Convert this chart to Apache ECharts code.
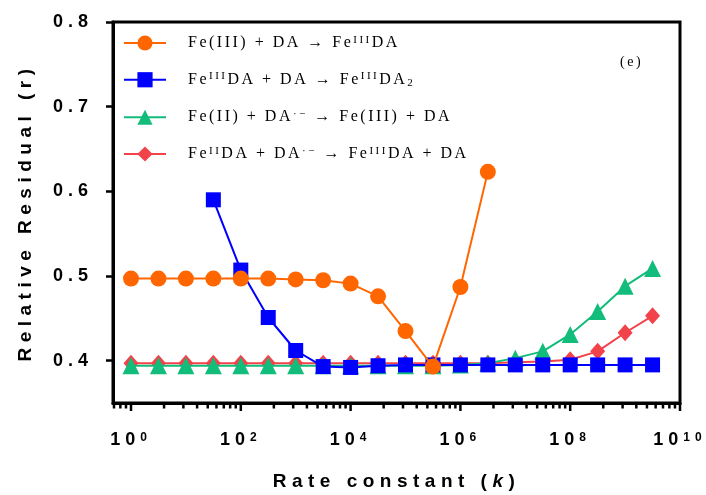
<!DOCTYPE html>
<html><head><meta charset="utf-8">
<script src="https://cdn.jsdelivr.net/npm/echarts@6/dist/echarts.min.js"></script>
<style>html,body{margin:0;padding:0;background:#fff}#c{width:706px;height:495px}</style>
</head><body><div id="c"></div>
<script>
// ---- data ----
const kValues = [1, 3.162, 10, 31.62, 100, 316.2, 1e3, 3162, 1e4, 31620, 1e5, 316200, 1e6, 3.162e6, 1e7, 3.162e7, 1e8, 3.162e8, 1e9, 3.162e9];
const seriesNames = ['Fe(III) + DA → FeIIIDA', 'FeIIIDA + DA → FeIIIDA2', 'Fe(II) + DA·− → Fe(III) + DA', 'FeIIDA + DA·− → FeIIIDA + DA'];
const legendRich = [
  '{t|Fe(III) + DA → Fe}{sup|III}{t|DA}',
  '{t|Fe}{sup|III}{t|DA + DA → Fe}{sup|III}{t|DA}{sub|2}',
  '{t|Fe(II) + DA}{sup|·−}{t| → Fe(III) + DA}',
  '{t|Fe}{sup|II}{t|DA + DA}{sup|·−}{t| → Fe}{sup|III}{t|DA + DA}'
];
const orangeR = [0.497, 0.497, 0.497, 0.497, 0.497, 0.497, 0.496, 0.495, 0.491, 0.476, 0.435, 0.393, 0.487, 0.623];
const blueR = [null, null, null, 0.590, 0.507, 0.451, 0.412, 0.393, 0.392, 0.394, 0.395, 0.395, 0.395, 0.395, 0.395, 0.395, 0.395, 0.395, 0.395, 0.395];
const greenR = [0.394, 0.394, 0.394, 0.394, 0.394, 0.394, 0.394, 0.394, 0.394, 0.394, 0.394, 0.394, 0.395, 0.397, 0.403, 0.411, 0.431, 0.458, 0.488, 0.509];
const redR = [0.397, 0.397, 0.397, 0.397, 0.397, 0.397, 0.397, 0.397, 0.397, 0.397, 0.397, 0.397, 0.397, 0.397, 0.398, 0.399, 0.401, 0.411, 0.433, 0.453];
const majorTickExponents = [0, 2, 4, 6, 8, 10];
const majorTickValues = majorTickExponents.map(function (e) { return Math.pow(10, e); });
const minorTickValues = [0.49, 0.64, 0.81];
[0, 2, 4, 6, 8].forEach(function (e) { [4, 9, 16, 25, 36, 49, 64, 81].forEach(function (k) { minorTickValues.push(k * Math.pow(10, e)); }); });
const xTitleRich = '{n|Rate constant (}{i|k}{n|)}';
const yTitle = 'Relative Residual (r)';
const panelTag = '(e)';
const X_MIN = 0.47, X_MAX = 1e10, Y_MIN = 0.35, Y_MAX = 0.8;

// letter spacing emulation (Prism style tracking)
(function () {
  const P = CanvasRenderingContext2D.prototype;
  function ls(ctx) {
    const f = ctx.font || '';
    let v = '0px';
    if (f.indexOf('Liberation Serif') >= 0) v = '2.5px';
    else if (f.indexOf('Liberation Sans') >= 0) v = (f.indexOf('19px') >= 0 ? '5.5px' : '5px');
    if ('letterSpacing' in ctx) ctx.letterSpacing = v;
  }
  ['fillText', 'strokeText', 'measureText'].forEach(function (m) {
    const o = P[m];
    P[m] = function () { ls(this); return o.apply(this, arguments); };
  });
})();

const SANS = 'Liberation Sans', SERIF = 'Liberation Serif';
const colors = ['#FF6600', '#0000FF', '#12BC7A', '#F2434B'];
function pts(arr) { return arr.map(function (v, i) { return [kValues[i], v]; }).filter(function (p) { return p[1] != null; }); }

const chart = echarts.init(document.getElementById('c'), null, { renderer: 'canvas' });
chart.setOption({
  animation: false,
  backgroundColor: '#fff',
  grid: { left: 113, right: 26, top: 22, bottom: 92, show: true, borderColor: '#000', borderWidth: 3,
    containLabel: false, outerBoundsMode: 'none' },
  legend: {
    orient: 'vertical', left: 123, top: 33, padding: 0, itemWidth: 42, itemHeight: 19, itemGap: 17.5,
    data: seriesNames,
    formatter: function (name) { return legendRich[seriesNames.indexOf(name)]; },
    textStyle: {
      fontFamily: SERIF, fontSize: 16, color: '#000', padding: [0, 0, 0, 17],
      rich: {
        t: { fontFamily: SERIF, fontSize: 16, lineHeight: 20, color: '#000' },
        sup: { fontFamily: SERIF, fontSize: 11, lineHeight: 11, verticalAlign: 'top', color: '#000' },
        sub: { fontFamily: SERIF, fontSize: 11, lineHeight: 11, verticalAlign: 'bottom', color: '#000' }
      }
    }
  },
  graphic: [{ id: 'tag', type: 'text', left: 620, top: 54, style: { text: panelTag, font: '14px "Liberation Serif"', fill: '#000' } }],
  xAxis: {
    type: 'log', min: X_MIN, max: X_MAX, splitNumber: 5,
    name: xTitleRich, nameLocation: 'middle', nameGap: 67, nameMoveOverlap: false,
    nameTextStyle: {
      fontFamily: SANS, fontSize: 19, fontWeight: 'bold', color: '#000',
      rich: {
        n: { fontFamily: SANS, fontSize: 19, fontWeight: 'bold', color: '#000' },
        i: { fontFamily: SANS, fontSize: 19, fontWeight: 'bold', fontStyle: 'italic', color: '#000' }
      }
    },
    axisLine: { lineStyle: { color: '#000', width: 3 } },
    axisTick: { show: false },
    splitLine: { show: false },
    axisLabel: {
      customValues: majorTickValues, interval: 0, hideOverlap: false, margin: 26, color: '#000',
      formatter: function (v) {
        const e = Math.round(Math.log10(v));
        return '{b|10}{s|' + e + '}';
      },
      rich: {
        b: { fontFamily: SANS, fontSize: 18, fontWeight: 'bold', lineHeight: 22, color: '#000' },
        s: { fontFamily: SANS, fontSize: 12, fontWeight: 'bold', lineHeight: 12, verticalAlign: 'top', color: '#000' }
      }
    }
  },
  yAxis: {
    type: 'value', min: Y_MIN, max: Y_MAX, splitNumber: 5,
    name: yTitle, nameLocation: 'middle', nameGap: 75, nameMoveOverlap: false,
    nameTextStyle: { fontFamily: SANS, fontSize: 19, fontWeight: 'bold', color: '#000' },
    axisLine: { lineStyle: { color: '#000', width: 3 } },
    axisTick: { length: 7, lineStyle: { color: '#000', width: 2.5 } },
    splitLine: { show: false },
    axisLabel: { showMinLabel: false, margin: 20, fontFamily: SANS, fontSize: 18, fontWeight: 'bold', color: '#000',
      formatter: function (v) { return v.toFixed(1); } }
  },
  series: [
    { name: seriesNames[0], type: 'line', data: pts(orangeR), color: colors[0], symbol: 'circle', symbolSize: 16, z: 6,
      lineStyle: { width: 2 } },
    { name: seriesNames[1], type: 'line', data: pts(blueR), color: colors[1], symbol: 'rect', symbolSize: 15, z: 5,
      lineStyle: { width: 2 } },
    { name: seriesNames[2], type: 'line', data: pts(greenR), color: colors[2], symbol: 'triangle', symbolSize: 17, z: 4,
      lineStyle: { width: 2 } },
    { name: seriesNames[3], type: 'line', data: pts(redR), color: colors[3], symbol: 'diamond', symbolSize: [15, 17], z: 3,
      lineStyle: { width: 2 } }
  ]
});

// x-axis tick marks placed through the axis scale
const tickEls = [];
function addTick(v, len) {
  const p = chart.convertToPixel({ xAxisIndex: 0, yAxisIndex: 0 }, [v, Y_MIN]);
  tickEls.push({ id: 'tk' + tickEls.length, type: 'line', z: 100, silent: true,
    shape: { x1: p[0], y1: p[1], x2: p[0], y2: p[1] + len }, style: { stroke: '#000', lineWidth: 2.5 } });
}
majorTickValues.forEach(function (v) { addTick(v, 8); });
minorTickValues.forEach(function (v) { addTick(v, 5.5); });
chart.setOption({ graphic: tickEls });
</script></body></html>
